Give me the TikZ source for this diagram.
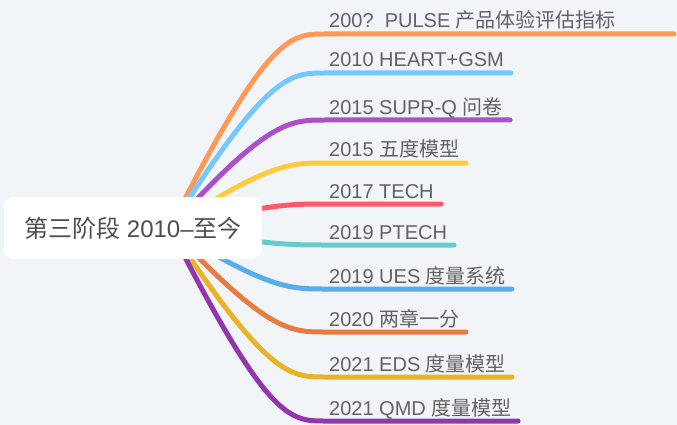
\documentclass[tikz,border=0pt]{standalone}
\usepackage{fontspec}
\setmainfont{Liberation Sans}
\newfontfamily\cjk{Noto Sans CJK SC}
\definecolor{bg}{HTML}{F2F5F8}
\definecolor{labgray}{HTML}{626262}
\definecolor{rootgray}{HTML}{4E4E4E}
\definecolor{cA1}{HTML}{FF9955}
\definecolor{cA2}{HTML}{74C7FF}
\definecolor{cA3}{HTML}{AB50C8}
\definecolor{cA4}{HTML}{FFCB3C}
\definecolor{cA5}{HTML}{FF5A6B}
\definecolor{cA6}{HTML}{66CCCC}
\definecolor{cA7}{HTML}{58AEE8}
\definecolor{cA8}{HTML}{E87B40}
\definecolor{cA9}{HTML}{E8B325}
\definecolor{cA10}{HTML}{9434AE}
\begin{document}
\begin{tikzpicture}[x=1pt,y=-1pt,
  branch/.style={line width=5pt, line cap=round},
  lab/.style={anchor=base west, inner sep=0pt, text=labgray, font=\fontsize{20}{22}\selectfont},
  rootbox/.style={fill=white, rounded corners=10pt, minimum width=258pt, minimum height=62pt, inner sep=0pt, text=rootgray, font=\fontsize{24}{26}\selectfont}]
\fill[bg] (0,0) rectangle (677,425);
\useasboundingbox (0,0) rectangle (677,425);
\coordinate (hub) at (170,228);
\coordinate (ctA) at (268,0);
\coordinate (ctB) at (290,0);
% end points of curves and underlines
\coordinate (e1) at (325,34);  \coordinate (f1) at (674,34);
\coordinate (e2) at (325,73);  \coordinate (f2) at (511,73);
\coordinate (e3) at (325,120); \coordinate (f3) at (510,120);
\coordinate (e4) at (325,163); \coordinate (f4) at (466,163);
\coordinate (e5) at (325,204); \coordinate (f5) at (441,204);
\coordinate (e6) at (325,245); \coordinate (f6) at (454,245);
\coordinate (e7) at (325,289); \coordinate (f7) at (512,289);
\coordinate (e8) at (325,332); \coordinate (f8) at (466,332);
\coordinate (e9) at (325,377); \coordinate (f9) at (512,377);
\coordinate (e10) at (325,421); \coordinate (f10) at (518,421);
% branches
\draw[branch, cA1] (hub) .. controls (ctA |- e1) and (ctB |- e1) .. (e1) -- (f1);
\draw[branch, cA2] (hub) .. controls (ctA |- e2) and (ctB |- e2) .. (e2) -- (f2);
\draw[branch, cA3] (hub) .. controls (ctA |- e3) and (ctB |- e3) .. (e3) -- (f3);
\draw[branch, cA4] (hub) .. controls (ctA |- e4) and (ctB |- e4) .. (e4) -- (f4);
\draw[branch, cA5] (hub) .. controls (ctA |- e5) and (ctB |- e5) .. (e5) -- (f5);
\draw[branch, cA6] (hub) .. controls (ctA |- e6) and (ctB |- e6) .. (e6) -- (f6);
\draw[branch, cA7] (hub) .. controls (ctA |- e7) and (ctB |- e7) .. (e7) -- (f7);
\draw[branch, cA8] (hub) .. controls (ctA |- e8) and (ctB |- e8) .. (e8) -- (f8);
\draw[branch, cA9] (hub) .. controls (ctA |- e9) and (ctB |- e9) .. (e9) -- (f9);
\draw[branch, cA10] (hub) .. controls (ctA |- e10) and (ctB |- e10) .. (e10) -- (f10);
% root
\node[rootbox] (root) at (133,228) {{\cjk 第三阶段} 2010–{\cjk 至今}};
% labels
\node[lab] (l1) at (329,28) {200?\ \ PULSE {\cjk 产品体验评估指标}};
\node[lab] (l2) at (329,67) {2010 HEART+GSM};
\node[lab] (l3) at (329,114) {2015 SUPR-Q {\cjk 问卷}};
\node[lab] (l4) at (329,157) {2015 {\cjk 五度模型}};
\node[lab] (l5) at (329,198) {2017 TECH};
\node[lab] (l6) at (329,239) {2019 PTECH};
\node[lab] (l7) at (329,283) {2019 UES {\cjk 度量系统}};
\node[lab] (l8) at (329,326) {2020 {\cjk 两章一分}};
\node[lab] (l9) at (329,371) {2021 EDS {\cjk 度量模型}};
\node[lab] (l10) at (329,415) {2021 QMD {\cjk 度量模型}};
\end{tikzpicture}
\end{document}
